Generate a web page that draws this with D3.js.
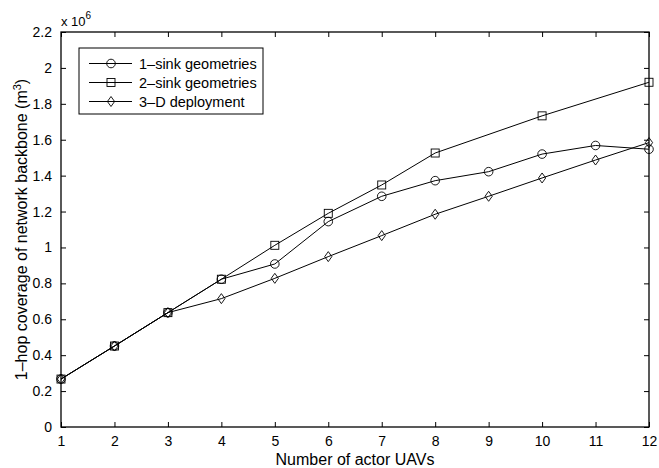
<!DOCTYPE html>
<html>
  <head>
    <meta charset="utf-8">
    <title>1-hop coverage vs actor UAVs</title>
    <script src="https://cdn.jsdelivr.net/npm/d3@7"></script>
    <style>
      body { margin: 0; background: #fff; }
      svg text { font-family: "Liberation Sans", Arial, sans-serif; fill: #000; }
    </style>
  </head>
  <body>
    <div id="chart"></div>
    <script>
      // values in units of 1e6 m^3
      var xTicks = [1, 2, 3, 4, 5, 6, 7, 8, 9, 10, 11, 12];
      var yTicks = [0, 0.2, 0.4, 0.6, 0.8, 1, 1.2, 1.4, 1.6, 1.8, 2, 2.2];

      var oneSinkX = [1, 2, 3, 4, 5, 6, 7, 8, 9, 10, 11, 12];
      var oneSink = [0.267, 0.451, 0.637, 0.823, 0.908, 1.144, 1.285, 1.372, 1.422, 1.52, 1.568, 1.547];

      var twoSinkX = [1, 2, 3, 4, 5, 6, 7, 8, 10, 12];
      var twoSink = [0.267, 0.451, 0.637, 0.823, 1.012, 1.19, 1.348, 1.526, 1.733, 1.92];

      var threeDX = [1, 2, 3, 4, 5, 6, 7, 8, 9, 10, 11, 12];
      var threeD = [0.267, 0.451, 0.637, 0.715, 0.828, 0.949, 1.066, 1.185, 1.285, 1.387, 1.487, 1.584];

      var seriesNames = ["1\u2013sink geometries", "2\u2013sink geometries", "3\u2013D deployment"];

      var width = 659, height = 468;
      var margin = {left: 61, top: 32, right: 10, bottom: 41};

      var svg = d3.select("#chart").append("svg")
        .attr("width", width)
        .attr("height", height);

      var x = d3.scaleLinear().domain([1, 12]).range([margin.left, width - margin.right]);
      var y = d3.scaleLinear().domain([0, 2.2]).range([height - margin.bottom, margin.top]);

      var fmt = function (d) { return d3.format("~g")(d); };

      // axes, ticks pointing inward on all four sides
      svg.append("g")
        .attr("transform", "translate(0," + y(0) + ")")
        .call(d3.axisBottom(x).tickValues(xTicks).tickSizeInner(-5).tickSizeOuter(0).tickPadding(9).tickFormat(fmt));
      svg.append("g")
        .attr("transform", "translate(0," + y(2.2) + ")")
        .call(d3.axisTop(x).tickValues(xTicks).tickSizeInner(-5).tickSizeOuter(0).tickFormat(""));
      svg.append("g")
        .attr("transform", "translate(" + x(1) + ",0)")
        .call(d3.axisLeft(y).tickValues(yTicks).tickSizeInner(-5).tickSizeOuter(0).tickPadding(9).tickFormat(fmt));
      svg.append("g")
        .attr("transform", "translate(" + x(12) + ",0)")
        .call(d3.axisRight(y).tickValues(yTicks).tickSizeInner(-5).tickSizeOuter(0).tickFormat(""));

      svg.selectAll(".domain").remove();
      svg.selectAll(".tick line").attr("stroke", "#000").attr("stroke-width", 1);
      svg.selectAll(".tick text").attr("font-size", 14).attr("fill", "#000");

      svg.append("rect")
        .attr("x", x(1)).attr("y", y(2.2))
        .attr("width", x(12) - x(1)).attr("height", y(0) - y(2.2))
        .attr("fill", "none").attr("stroke", "#000").attr("stroke-width", 1.3);

      // exponent label
      var expo = svg.append("text").attr("x", x(1)).attr("y", 26).attr("font-size", 13);
      expo.append("tspan").text("x 10");
      expo.append("tspan").attr("dy", -7).attr("font-size", 10).text("6");

      // axis titles
      svg.append("text")
        .attr("x", (x(1) + x(12)) / 2).attr("y", 465)
        .attr("text-anchor", "middle").attr("font-size", 16)
        .text("Number of actor UAVs");

      var yl = svg.append("text")
        .attr("transform", "translate(27," + ((y(0) + y(2.2)) / 2) + ") rotate(-90)")
        .attr("text-anchor", "middle").attr("font-size", 16);
      yl.append("tspan").text("1\u2013hop coverage of network backbone (m");
      yl.append("tspan").attr("dy", -6).attr("font-size", 11).text("3");
      yl.append("tspan").attr("dy", 6).text(")");

      // markers
      function drawMarker(g, type, cx, cy) {
        if (type === 0) {
          g.append("circle").attr("cx", cx).attr("cy", cy).attr("r", 4.3)
            .attr("fill", "none").attr("stroke", "#000").attr("stroke-width", 0.9);
        } else if (type === 1) {
          g.append("rect").attr("x", cx - 4).attr("y", cy - 4).attr("width", 8).attr("height", 8)
            .attr("fill", "none").attr("stroke", "#000").attr("stroke-width", 0.9);
        } else {
          g.append("path")
            .attr("d", "M" + cx + "," + (cy - 5) + "L" + (cx + 3.6) + "," + cy + "L" + cx + "," + (cy + 5) + "L" + (cx - 3.6) + "," + cy + "Z")
            .attr("fill", "none").attr("stroke", "#000").attr("stroke-width", 0.9);
        }
      }

      var series = [
        {xs: oneSinkX, ys: oneSink},
        {xs: twoSinkX, ys: twoSink},
        {xs: threeDX, ys: threeD}
      ];

      var line = d3.line().x(function (d) { return x(d[0]); }).y(function (d) { return y(d[1]); });

      series.forEach(function (s, i) {
        var pts = s.xs.map(function (v, j) { return [v, s.ys[j]]; });
        var g = svg.append("g");
        g.append("path").datum(pts).attr("d", line)
          .attr("fill", "none").attr("stroke", "#000").attr("stroke-width", 1);
        pts.forEach(function (p) { drawMarker(g, i, x(p[0]), y(p[1])); });
      });

      // legend
      var lg = svg.append("g");
      lg.append("rect").attr("x", 79).attr("y", 48).attr("width", 184).attr("height", 66)
        .attr("fill", "#fff").attr("stroke", "#000").attr("stroke-width", 1);
      seriesNames.forEach(function (name, i) {
        var ly = 63.5 + i * 19;
        lg.append("line").attr("x1", 89).attr("x2", 132).attr("y1", ly).attr("y2", ly)
          .attr("stroke", "#000").attr("stroke-width", 1);
        drawMarker(lg, i, 111, ly);
        lg.append("text").attr("x", 139).attr("y", ly + 5).attr("font-size", 14.5).text(name);
      });
    </script>
  </body>
</html>
